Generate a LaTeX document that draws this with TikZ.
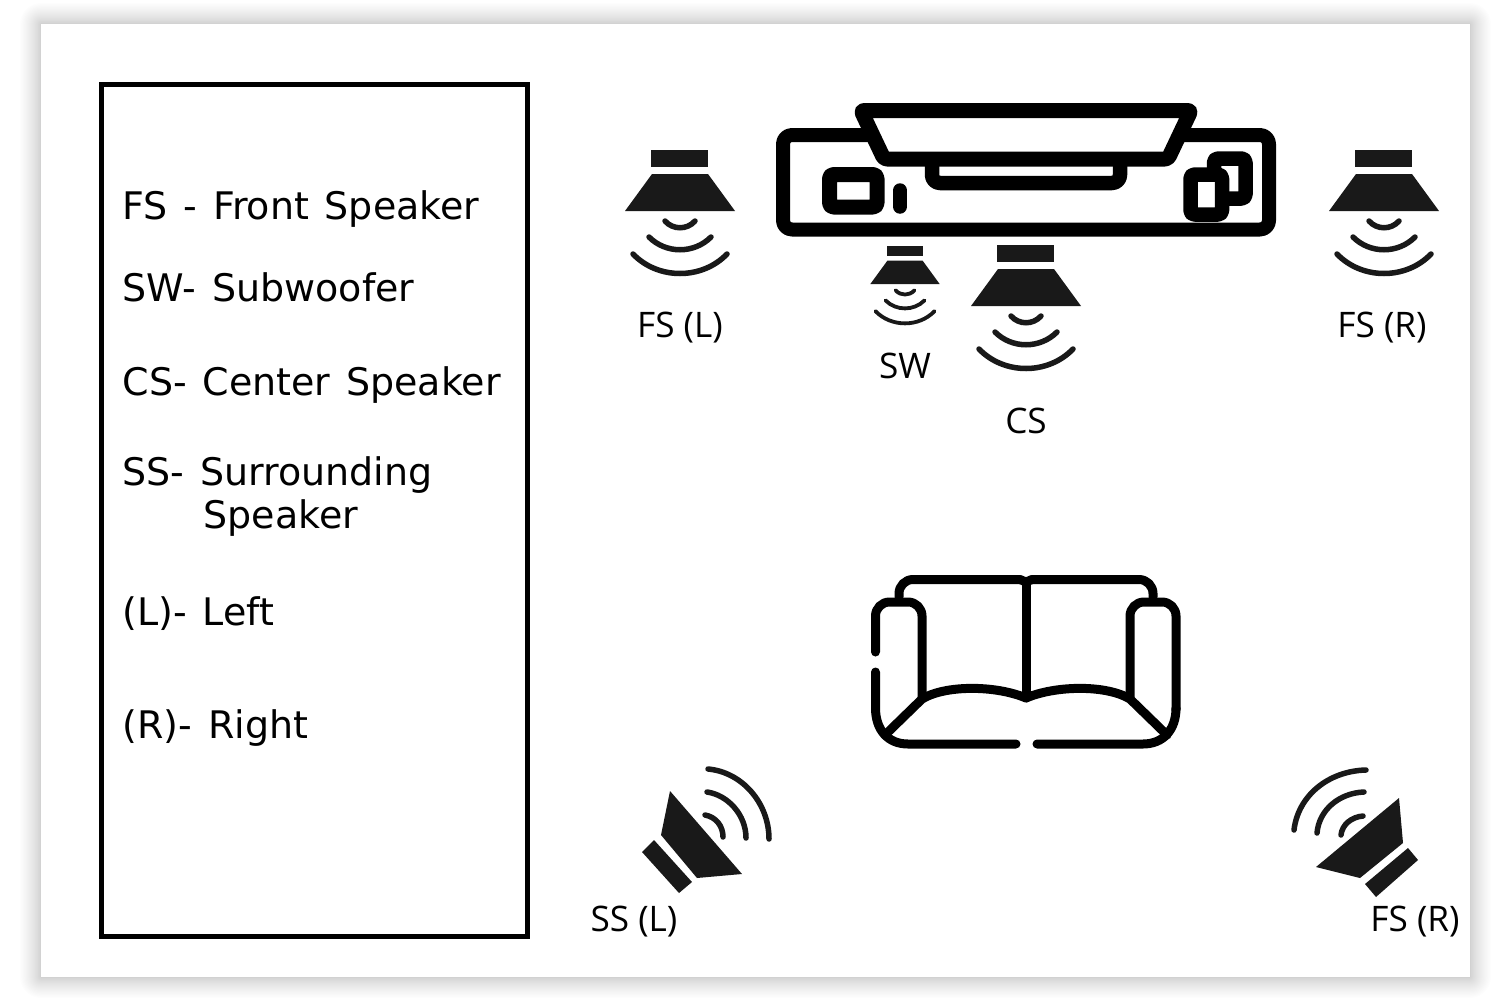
\documentclass[tikz,border=0pt]{standalone}
\usepackage{fontspec}
\setmainfont[WordSpace=1.3]{DejaVu Sans}
\newfontfamily\labelfont{Open Sans}
\usepackage{tikz}

\tikzset{
    px/.style={line width=#1*0.01cm},
    legendtext/.style={anchor=base west, inner sep=0pt, font=\fontsize{10.8}{13}\selectfont},
    spktext/.style={anchor=base, inner sep=0pt, font=\labelfont\fontsize{10}{12}\selectfont},
    wave/.style={draw=black!90, line cap=round, fill=none},
    outline/.style={draw=black, line cap=round, line join=round},
    % Speaker seen from the front, origin at the middle of the cone's lower edge
    frontspk/.pic={
        \fill [black!90] (-29,-61) rectangle (28,-44);
        \fill [black!90] (-28,-37) -- (28,-37) -- (55,0) -- (-55,0) -- cycle;
        \draw [wave, px=#1] (-15,10) .. controls (-7,19) and (7,19) .. (15,10);
        \draw [wave, px=#1] (-31,26) .. controls (-14,43) and (14,43) .. (31,26);
        \draw [wave, px=#1] (-47,43) .. controls (-22,69) and (22,69) .. (47,43);
    }
}

\begin{document}
\begin{tikzpicture}[x=0.01cm, y=-0.01cm]

    \useasboundingbox (0,0) rectangle (1500,1000);

    % Card with its soft shadow
    \foreach \i in {1,...,24} {
        \pgfmathsetmacro{\spread}{21*(\i/24)^1.4}
        \fill [black, opacity=0.0065, rounded corners=\spread*0.01cm] ({41-\spread},{24-\spread}) rectangle ({1470+\spread},{977+\spread});
    }
    \fill [white] (41,24) rectangle (1470,977);

    % Legend
    \draw [px=5] (101.5,84.5) rectangle (527.5,936.5);
    \node [legendtext] (legendfs) at (122,219) {FS - Front Speaker};
    \node [legendtext] (legendsw) at (122,301) {SW- Subwoofer};
    \node [legendtext] (legendcs) at (122,395) {CS- Center Speaker};
    \node [legendtext] (legendss) at (122,485) {SS- Surrounding};
    \node [legendtext] (legendssb) at (203,528) {Speaker};
    \node [legendtext] (legendl) at (122,625) {(L)- Left};
    \node [legendtext] (legendr) at (122,738) {(R)- Right};

    % Media unit
    \draw [outline, px=14, rounded corners=9*0.01cm] (783,135) rectangle (1269,229.5);
    \draw [outline, px=14.5, rounded corners=8*0.01cm] (932,160) -- (932,183) -- (1120,183) -- (1120,160);
    \draw [outline, px=15, fill=white, rounded corners=3*0.01cm] (861,110.5) -- (1191,110.5) -- (1168,159) -- (884,159) -- cycle;
    \draw [outline, px=15, rounded corners=4*0.01cm] (829.5,174.5) rectangle (877,207);
    \draw [outline, px=14.5] (900,190.5) -- (900,206.5);
    \draw [outline, px=14.5, fill=white, rounded corners=4*0.01cm] (1214,158.5) rectangle (1245.5,198.5);
    \draw [outline, px=14.5, fill=white, rounded corners=4*0.01cm] (1190.5,174.5) rectangle (1222,214.5);

    % Front speakers
    \pic at (680,211) {frontspk=5.5};
    \pic at (1384,211) {frontspk=5.5};
    \pic at (1026,306) {frontspk=5.5};
    \pic [scale=0.63] at (905,284) {frontspk=3.8};

    % Sofa
    \draw [outline, px=9, rounded corners=14*0.01cm] (899,597) -- (899,579.5) -- (1020,579.5);
    \draw [outline, px=9, rounded corners=14*0.01cm] (1153,597) -- (1153,579.5) -- (1032,579.5);
    \draw [outline, px=9] (1020,579.5) -- (1026,582) -- (1032,579.5);
    \draw [outline, px=9] (1026,582) -- (1026,698);
    \draw [outline, px=9, rounded corners=14*0.01cm] (875.5,652) -- (875.5,602) -- (922,602) -- (922,697);
    \draw [outline, px=9, rounded corners=14*0.01cm] (1130,697) -- (1130,602) -- (1176,602) -- (1176,710);
    \draw [outline, px=9] (875.5,672) -- (875.5,708) .. controls (875.5,730) and (888,744) .. (908,744) -- (1016,744);
    \draw [outline, px=9] (1176,708) .. controls (1176,730) and (1163,744) .. (1143,744) -- (1037,744);
    \draw [outline, px=9] (885,735) -- (922,699) .. controls (945,685) and (995,685) .. (1026,698);
    \draw [outline, px=9] (1167,735) -- (1130,699) .. controls (1107,685) and (1057,685) .. (1026,698);

    % Surround speaker, left
    \fill [black!90] (670,791) -- (742,874) -- (697,878) -- (661,835) -- cycle;
    \fill [black!90] (654,840) -- (692,882) -- (679,893) -- (642,852) -- cycle;
    \draw [wave, px=5.5] (705,815) .. controls (716,817) and (723,826) .. (723,837);
    \draw [wave, px=5.5] (707,792) .. controls (728,795) and (746,815) .. (746,838);
    \draw [wave, px=5.5] (708,769) .. controls (742,772) and (769,803) .. (769,839);

    % Surround speaker, right
    \fill [black!90] (1399,798) -- (1403,843) -- (1360,878) -- (1316,867) -- cycle;
    \fill [black!90] (1408,848) -- (1418,860) -- (1376,897) -- (1365,884) -- cycle;
    \draw [wave, px=5.5] (1363,816) .. controls (1351,817) and (1342,825) .. (1341,835);
    \draw [wave, px=5.5] (1364,792) .. controls (1339,793) and (1319,810) .. (1317,833);
    \draw [wave, px=5.5] (1366,770) .. controls (1328,771) and (1298,796) .. (1294,830);

    % Speaker names
    \node [spktext] (namefsl) at (680,337) {FS (L)};
    \node [spktext] (namefsr) at (1382,337) {FS (R)};
    \node [spktext] (namesw) at (905,378) {SW};
    \node [spktext] (namecs) at (1026,433) {CS};
    \node [spktext] (namessl) at (634,931) {SS (L)};
    \node [spktext] (namessr) at (1415,931) {FS (R)};

\end{tikzpicture}
\end{document}
